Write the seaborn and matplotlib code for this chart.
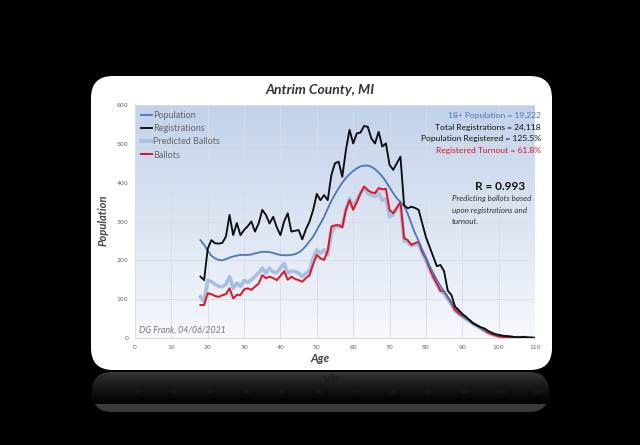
import matplotlib
matplotlib.use("Agg")
import matplotlib.pyplot as plt
import numpy as np
import pandas as pd
import seaborn as sns
from matplotlib.patches import FancyBboxPatch, PathPatch
from matplotlib.textpath import TextPath
from matplotlib.font_manager import FontProperties
from matplotlib.transforms import Affine2D

ages = list(range(18, 111))

registrations = [
    158, 149, 230, 252, 244, 243, 245, 261, 317, 265, 296, 265, 278, 288, 300, 274,
    295, 330, 317, 295, 312, 285, 265, 300, 321, 274, 276, 278, 254, 280, 300, 330,
    371, 355, 368, 355, 420, 450, 454, 415, 484, 536, 501, 527, 529, 546, 544, 514,
    501, 531, 493, 501, 446, 433, 450, 467, 342, 334, 338, 335, 330, 295, 260, 235,
    210, 185, 188, 172, 122, 111, 81, 72, 62, 55, 46, 38, 33, 28, 25, 19, 14, 10,
    8, 6, 5, 4, 3, 2, 2, 3, 1, 1, 0,
]
population = [
    252, 240, 225, 212, 205, 201, 200, 203, 207, 210, 212, 214, 214, 214, 215, 218,
    220, 222, 222, 221, 219, 216, 214, 213, 213, 214, 216, 220, 227, 237, 249, 261,
    278, 295, 312, 333, 353, 370, 386, 400, 412, 422, 430, 437, 442, 444, 444, 441,
    435, 426, 416, 403, 388, 373, 360, 350, 340, 320, 295, 270, 250, 228, 207, 186,
    168, 150, 134, 120, 106, 93, 80, 70, 60, 51, 44, 37, 31, 26, 21, 17, 13, 10,
    8, 6, 5, 4, 3, 2, 2, 1, 1, 1, 0,
]
predicted = [
    106, 94, 149, 145, 138, 133, 132, 138, 158, 128, 141, 133, 148, 143, 150, 158,
    168, 180, 167, 180, 170, 168, 180, 192, 167, 172, 171, 167, 158, 167, 173, 205,
    227, 218, 227, 214, 270, 287, 287, 287, 330, 360, 338, 355, 375, 386, 373, 368,
    364, 373, 355, 358, 312, 318, 335, 345, 250, 247, 238, 240, 242, 218, 200, 176,
    155, 138, 120, 115, 100, 86, 70, 62, 55, 49, 43, 36, 31, 25, 19, 14, 10, 7,
    5, 3, 2, 2, 1, 1, 1, 1, 1, 0, 0,
]
ballots = [
    85, 85, 115, 113, 108, 106, 110, 113, 128, 102, 111, 111, 125, 128, 124, 132,
    140, 162, 154, 158, 154, 149, 160, 172, 150, 158, 152, 149, 145, 154, 162, 190,
    214, 205, 201, 225, 287, 290, 291, 285, 330, 355, 330, 350, 372, 390, 381, 375,
    373, 386, 383, 384, 330, 321, 335, 351, 257, 252, 240, 244, 248, 222, 205, 180,
    158, 140, 122, 120, 105, 90, 72, 64, 57, 51, 46, 38, 33, 26, 20, 14, 10, 7,
    4, 3, 2, 2, 1, 1, 1, 2, 1, 0, 0,
]

series_names = ["Population", "Registrations", "Predicted Ballots", "Ballots"]
x_ticks = list(range(0, 111, 10))
y_ticks = list(range(0, 601, 100))

W, H = 640, 445
fig = plt.figure(figsize=(W / 100, H / 100), dpi=100, facecolor="black")


def fx(px):
    return px / W


def fy(py):
    return 1 - py / H


# pixel-space backdrop: card + reflection
bg = fig.add_axes([0, 0, 1, 1])
bg.set_xlim(0, W)
bg.set_ylim(H, 0)
bg.axis("off")
bg.set_facecolor("black")

card = FancyBboxPatch((91, 76), 461, 294, boxstyle="round,pad=0,rounding_size=22",
                      facecolor="white", edgecolor="none")
bg.add_patch(card)

refl = FancyBboxPatch((92, 372), 457, 40, boxstyle="round,pad=0,rounding_size=20",
                      facecolor="#3a3a3a", edgecolor="none")
bg.add_patch(refl)
fade = np.zeros((100, 2, 4))
fade[..., 3] = np.linspace(0.0, 1.0, 100)[:, None] ** 0.7
img = bg.imshow(fade, extent=(90, 552, 404, 372), aspect="auto", zorder=3)
img.set_clip_path(refl)

# mirrored text in reflection (inverted y axis flips the glyphs)
fp = FontProperties(family="Lato", style="italic", weight="bold")
tp = TextPath((0, 0), "Age", size=10, prop=fp)
w = tp.get_extents().width
bg.add_patch(PathPatch(Affine2D().translate(332 - w / 2, 376).transform_path(tp),
                       facecolor="#1c1c1c", edgecolor="none", zorder=4))
fp2 = FontProperties(family="Lato")
for t in x_ticks:
    tp = TextPath((0, 0), str(t), size=5.5, prop=fp2)
    w = tp.get_extents().width
    bg.add_patch(PathPatch(Affine2D().translate(137 + t * 3.636 - w / 2, 390).transform_path(tp),
                           facecolor="#222222", edgecolor="none", zorder=4))

# main chart
ax = fig.add_axes([fx(135), fy(338), fx(535) - fx(135), fy(105) - fy(338)])
grad = np.linspace(0, 1, 256)[:, None]
top = np.array(matplotlib.colors.to_rgb("#c1d2ea"))
bottom = np.array(matplotlib.colors.to_rgb("#f6f8fc"))
colors_img = top * (1 - grad[..., None]) + bottom * grad[..., None]
ax.imshow(colors_img, extent=(0, 110, 0, 600), aspect="auto", zorder=0)

df = pd.DataFrame({
    "Age": ages,
    "Population": population,
    "Registrations": registrations,
    "Predicted Ballots": predicted,
    "Ballots": ballots,
})

styles = {
    "Predicted Ballots": dict(color="#a6bfe3", linewidth=2.6, zorder=3),
    "Ballots": dict(color="#e3121f", linewidth=1.4, zorder=4),
    "Population": dict(color="#4a78b8", linewidth=1.3, zorder=5),
    "Registrations": dict(color="#0d0d0d", linewidth=1.35, zorder=6),
}
for name in ["Predicted Ballots", "Ballots", "Population", "Registrations"]:
    sns.lineplot(data=df, x="Age", y=name, ax=ax, label=name, **styles[name])

ax.set_xlim(0, 110)
ax.set_ylim(0, 600)
ax.set_xticks(x_ticks)
ax.set_yticks(y_ticks)
ax.grid(True, color="#d8dde4", linewidth=0.6)
for line in ax.get_xgridlines() + ax.get_ygridlines():
    line.set_zorder(1)
for s in ax.spines.values():
    s.set_visible(False)
ax.spines["bottom"].set_visible(True)
ax.spines["bottom"].set_color("#d0d0d0")
ax.spines["bottom"].set_linewidth(0.6)
ax.tick_params(length=0, labelsize=4.5, labelcolor="#666666", pad=5)
ax.set_xlabel("")
ax.set_ylabel("")

handles, labels = ax.get_legend_handles_labels()
order = [labels.index(n) for n in series_names]
ax.legend([handles[i] for i in order], [labels[i] for i in order],
          loc="upper left", frameon=False, labelcolor="#666666",
          handlelength=1.2, handletextpad=0.1, labelspacing=0.45,
          borderaxespad=0.3, prop={"family": "Lato", "size": 6.5})

# texts
fig.text(fx(320), fy(90), "Antrim County, MI", ha="center", va="center",
         fontsize=10, fontweight="bold", fontstyle="italic", color="#333333", family="Lato")
fig.text(fx(103), fy(220), "Population", ha="center", va="center", rotation=90,
         fontsize=8, fontstyle="italic", fontweight="bold", color="#404040", family="Lato")
fig.text(fx(320), fy(358), "Age", ha="center", va="center",
         fontsize=8.5, fontstyle="italic", fontweight="bold", color="#404040", family="Lato")

stats = [
    ("18+ Population = 19,222", "#4a78b8"),
    ("Total Registrations = 24,118", "#111111"),
    ("Population Registered = 125.5%", "#111111"),
    ("Registered Turnout = 61.8%", "#e3121f"),
]
for i, (txt, col) in enumerate(stats):
    fig.text(fx(541), fy(115 + 12 * i), txt, ha="right", va="center",
             fontsize=6.1, color=col, family="Lato")

fig.text(fx(500), fy(186), "R = 0.993", ha="center", va="center",
         fontsize=8.5, fontweight="bold", color="#111111", family="Lato")
for i, txt in enumerate(["Predicting ballots based", "upon registrations and", "turnout."]):
    fig.text(fx(452), fy(199 + 11 * i), txt, ha="left", va="center",
             fontsize=5.8, fontstyle="italic", color="#333333", family="Lato")

fig.text(fx(139), fy(330), "DG Frank, 04/06/2021", ha="left", va="center",
         fontsize=6.3, fontstyle="italic", color="#777777", family="Lato")

fig.savefig("out.png", dpi=100, facecolor="black")
